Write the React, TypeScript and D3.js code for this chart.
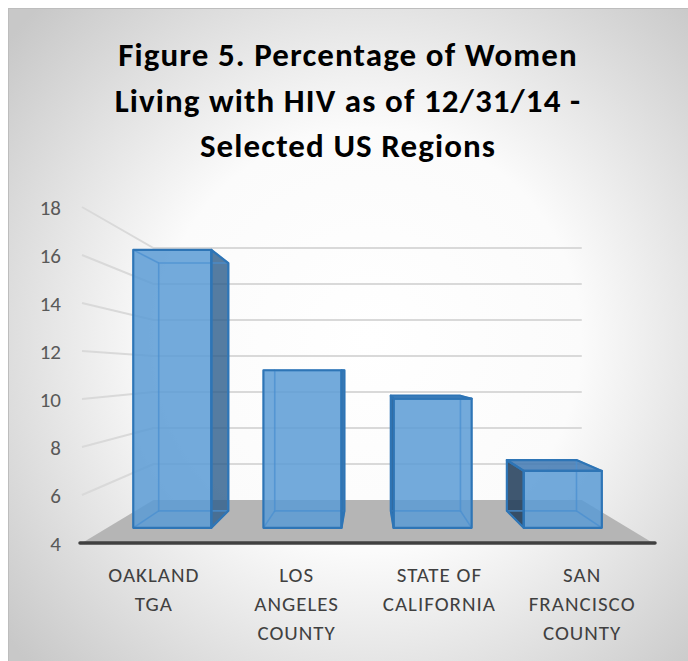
import React, { useEffect, useRef } from "react"
import * as d3 from "d3"

const categories = ["OAKLAND TGA", "LOS ANGELES COUNTY", "STATE OF CALIFORNIA", "SAN FRANCISCO COUNTY"]
const labelLines = [["OAKLAND", "TGA"], ["LOS", "ANGELES", "COUNTY"], ["STATE OF", "CALIFORNIA"], ["SAN", "FRANCISCO", "COUNTY"]]
const values = [16.7, 11.2, 9.9, 6.6]
const yTicks = [4, 6, 8, 10, 12, 14, 16, 18]
const titleLines = ["Figure 5. Percentage of Women", "Living with HIV as of 12/31/14 -", "Selected US Regions"]

const FONT = "Carlito, Calibri, Lato, sans-serif"

export default function App() {
  const ref = useRef<SVGSVGElement>(null)

  useEffect(() => {
    const svg = d3.select(ref.current)
    svg.selectAll("*").remove()
    const width = 688, height = 661

    // background with radial gradient
    const defs = svg.append("defs")
    const grad = defs.append("radialGradient").attr("id", "bg")
      .attr("gradientUnits", "userSpaceOnUse")
      .attr("cx", 370).attr("cy", 340).attr("r", 470)
    grad.append("stop").attr("offset", "0").attr("stop-color", "#ffffff")
    grad.append("stop").attr("offset", "0.45").attr("stop-color", "#fbfbfb")
    grad.append("stop").attr("offset", "1").attr("stop-color", "#c8c8c8")

    svg.append("rect").attr("width", width).attr("height", height).attr("fill", "#ffffff")
    svg.append("rect").attr("x", 8.5).attr("y", 8.5).attr("width", width + 10).attr("height", height + 10)
      .attr("fill", "url(#bg)").attr("stroke", "#bdbdbd").attr("stroke-width", 1)

    // front plane scales
    const x = d3.scaleBand().domain(categories).range([82, 653]).paddingInner(0.4).paddingOuter(0.2)
    const y = d3.scaleLinear().domain([4, 18]).range([543, 207])

    // simple perspective: z = 0 front, z = 1 back wall
    const xc = 368, yh = 371, persp = 3
    const sc = (z: number) => 1 / (1 + z / persp)
    const proj = (px: number, py: number, z: number): [number, number] =>
      [xc + (px - xc) * sc(z), yh + (py - yh) * sc(z)]
    const poly = (pts: [number, number][]) => pts.map(p => p.join(",")).join(" ")

    const xL = 82, xR = 653

    // floor
    svg.append("polygon")
      .attr("points", poly([proj(xL, y(4), 0), proj(xR, y(4), 0), proj(xR, y(4), 1), proj(xL, y(4), 1)]))
      .attr("fill", "#b5b5b5")

    // gridlines: side wall + back wall
    const grid = svg.append("g").attr("stroke", "#d9d9d9").attr("stroke-width", 2).attr("fill", "none")
    yTicks.filter(t => t > 4).forEach(t => {
      const a = proj(xL, y(t), 0), b = proj(xL, y(t), 1), c = proj(xR, y(t), 1)
      grid.append("polyline").attr("points", poly([a, b, c]))
    })

    // floor front edge
    svg.append("line").attr("x1", 80).attr("x2", 655).attr("y1", y(4)).attr("y2", y(4))
      .attr("stroke", "#404040").attr("stroke-width", 3.5).attr("stroke-linecap", "round")

    // bars
    const z0 = 0.29, z1 = 0.69
    const bars = svg.append("g")
    categories.forEach((cat, i) => {
      const x0 = x(cat) as number, x1 = x0 + x.bandwidth()
      const yt = y(values[i]), yb = y(4)
      const ftl = proj(x0, yt, z0), ftr = proj(x1, yt, z0), fbr = proj(x1, yb, z0), fbl = proj(x0, yb, z0)
      const btl = proj(x0, yt, z1), btr = proj(x1, yt, z1), bbr = proj(x1, yb, z1), bbl = proj(x0, yb, z1)
      const g = bars.append("g")

      const visible: [number, number][][] = []
      if (x1 < xc) {
        g.append("polygon").attr("points", poly([ftr, btr, bbr, fbr]))
          .attr("fill", "#2f5f8c").attr("fill-opacity", 0.82)
        visible.push([ftr, btr, bbr, fbr])
      } else if (x0 > xc) {
        g.append("polygon").attr("points", poly([ftl, btl, bbl, fbl]))
          .attr("fill", "#24405c").attr("fill-opacity", 0.88)
        visible.push([ftl, btl, bbl, fbl])
      }
      if (yt > yh) {
        g.append("polygon").attr("points", poly([ftl, ftr, btr, btl]))
          .attr("fill", "#3f78b2").attr("fill-opacity", 0.85)
        visible.push([ftl, ftr, btr, btl])
      }
      g.append("polygon").attr("points", poly([ftl, ftr, fbr, fbl]))
        .attr("fill", "#5b9bd5").attr("fill-opacity", 0.85)

      // hidden edges seen through the glass
      const hid = g.append("g").attr("stroke", "#4a8fd0").attr("stroke-width", 1.6)
        .attr("fill", "none").attr("stroke-opacity", 0.75)
      hid.append("polygon").attr("points", poly([btl, btr, bbr, bbl]))
      ;[[ftl, btl], [ftr, btr], [fbr, bbr], [fbl, bbl]].forEach(([a, b]) =>
        hid.append("line").attr("x1", a[0]).attr("y1", a[1]).attr("x2", b[0]).attr("y2", b[1]))

      const edge = g.append("g").attr("stroke", "#2e75b6").attr("stroke-width", 2.2)
        .attr("fill", "none").attr("stroke-linejoin", "round")
      visible.forEach(f => edge.append("polygon").attr("points", poly(f)))
      edge.append("polygon").attr("points", poly([ftl, ftr, fbr, fbl]))
    })

    // y axis labels (front plane)
    svg.append("g").selectAll("text").data(yTicks).join("text")
      .attr("x", 61).attr("y", d => y(d)).attr("dy", "0.36em")
      .attr("text-anchor", "end").attr("font-family", FONT).attr("font-size", 21)
      .attr("fill", "#595959").text(d => d)

    // category labels
    const lab = svg.append("g").attr("font-family", FONT).attr("font-size", 21)
      .attr("letter-spacing", 1).attr("fill", "#404040").attr("text-anchor", "middle")
    categories.forEach((cat, i) => {
      const cx = (x(cat) as number) + x.bandwidth() / 2 + 0.5
      labelLines[i].forEach((ln, j) => {
        lab.append("text").attr("x", cx).attr("y", 582 + j * 29).text(ln)
      })
    })

    // title
    svg.append("g").selectAll("text").data(titleLines).join("text")
      .attr("x", 348).attr("y", (d, i) => 66 + i * 45.5)
      .attr("text-anchor", "middle").attr("font-family", FONT).attr("font-weight", "bold")
      .attr("font-size", 33).attr("letter-spacing", 1.1).attr("fill", "#000000").text(d => d)
  }, [])

  return <svg ref={ref} width={688} height={661} style={{ position: "absolute", left: 0, top: 0 }} />
}
